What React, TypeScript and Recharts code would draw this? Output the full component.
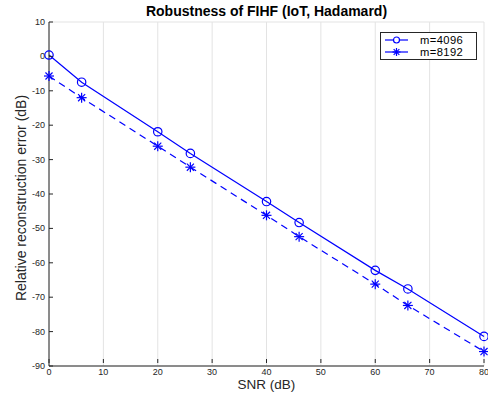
import React from 'react';
import { LineChart, Line, XAxis, YAxis, CartesianGrid, Legend } from 'recharts';

const snr = [0, 6, 20, 26, 40, 46, 60, 66, 80];
const m4096 = [0.4, -7.5, -21.9, -28.2, -42.2, -48.3, -62.2, -67.6, -81.4];
const m8192 = [-5.7, -12.0, -26.1, -32.2, -46.2, -52.4, -66.2, -72.4, -85.8];
const xTicks = [0, 10, 20, 30, 40, 50, 60, 70, 80];
const yTicks = [-90, -80, -70, -60, -50, -40, -30, -20, -10, 0, 10];
const seriesNames = ['m=4096', 'm=8192'];

const data = snr.map((s, i) => ({ snr: s, a: m4096[i], b: m8192[i] }));

const BLUE = '#0000ff';
const FONT = 'Liberation Sans, Arial, Helvetica, sans-serif';
const TICKCOL = '#262626';

const CircleDot = (p: any) => {
  if (p.cx == null || p.cy == null) return null;
  return <circle key={p.index} cx={p.cx} cy={p.cy} r={4.2} stroke={BLUE} strokeWidth={1.2} fill="none" />;
};

const StarShape = ({ cx, cy, s }: { cx: number; cy: number; s: number }) => {
  const d = s * 0.7071;
  return (
    <g stroke={BLUE} strokeWidth={1.2}>
      <line x1={cx - s} y1={cy} x2={cx + s} y2={cy} />
      <line x1={cx} y1={cy - s} x2={cx} y2={cy + s} />
      <line x1={cx - d} y1={cy - d} x2={cx + d} y2={cy + d} />
      <line x1={cx - d} y1={cy + d} x2={cx + d} y2={cy - d} />
    </g>
  );
};

const StarDot = (p: any) => {
  if (p.cx == null || p.cy == null) return null;
  return <g key={p.index}><StarShape cx={p.cx} cy={p.cy} s={5} /></g>;
};

const XTickBottom = (p: any) => {
  const { x, y, payload } = p;
  return (
    <g>
      <line x1={x} x2={x} y1={y - 3} y2={y - 7} stroke="#262626" strokeWidth={1} />
      <text x={x} y={y + 9} textAnchor="middle" fontSize={9} fill={TICKCOL} fontFamily={FONT}>
        {payload.value}
      </text>
    </g>
  );
};

const XTickTop = (p: any) => {
  const { x, y } = p;
  return <line x1={x} x2={x} y1={y} y2={y + 4} stroke="#262626" strokeWidth={1} />;
};

const YTickLeft = (p: any) => {
  const { x, y, payload } = p;
  return (
    <g>
      <line x1={x + 3} x2={x + 7} y1={y} y2={y} stroke="#262626" strokeWidth={1} />
      <text x={x - 1} y={y + 3} textAnchor="end" fontSize={9} fill={TICKCOL} fontFamily={FONT}>
        {payload.value}
      </text>
    </g>
  );
};

const YTickRight = (p: any) => {
  const { x, y } = p;
  return <line x1={x} x2={x - 4} y1={y} y2={y} stroke="#262626" strokeWidth={1} />;
};

const LegendBox = () => (
  <div
    style={{
      width: 95,
      height: 26,
      boxSizing: 'content-box',
      border: '1px solid #262626',
      background: '#fff',
      fontFamily: FONT,
      fontSize: 11.2,
      lineHeight: '12.5px',
      color: '#000',
    }}
  >
    <div style={{ height: 0.5 }} />
    {seriesNames.map((n, i) => (
      <div key={n} style={{ display: 'flex', alignItems: 'center', height: 12.5 }}>
        <svg width={39} height={12} style={{ display: 'block', flex: 'none' }}>
          <line x1={4} x2={27} y1={6} y2={6} stroke={BLUE} strokeWidth={1.2} />
          {i === 0 ? (
            <circle cx={15.5} cy={6} r={3} stroke={BLUE} strokeWidth={1.2} fill="#fff" />
          ) : (
            <StarShape cx={15.5} cy={6} s={4} />
          )}
        </svg>
        <span style={{ whiteSpace: 'nowrap', letterSpacing: 0.4 }}>{n}</span>
      </div>
    ))}
  </div>
);

export default function App() {
  return (
    <div style={{ position: 'absolute', left: 0, top: 0, width: 488, height: 401, background: '#fff' }}>
      <LineChart width={488} height={401} data={data} margin={{ top: 22, right: 4, bottom: 0, left: 0 }}>
        <CartesianGrid stroke="#e3e3e3" strokeWidth={1} vertical horizontal />
        <XAxis
          xAxisId="b"
          dataKey="snr"
          type="number"
          domain={[0, 80]}
          ticks={xTicks}
          height={35}
          tickSize={0}
          tickMargin={0}
          tickLine={false}
          tick={<XTickBottom />}
          stroke="#262626"
          interval={0}
        />
        <XAxis
          xAxisId="t"
          orientation="top"
          dataKey="snr"
          type="number"
          domain={[0, 80]}
          ticks={xTicks}
          height={0}
          tickSize={0}
          tickMargin={0}
          tickLine={false}
          tick={<XTickTop />}
          stroke="#262626"
          interval={0}
        />
        <YAxis
          yAxisId="l"
          type="number"
          domain={[-90, 10]}
          ticks={yTicks}
          width={49}
          tickSize={0}
          tickMargin={3}
          tickLine={false}
          tick={<YTickLeft />}
          stroke="#262626"
          interval={0}
        />
        <YAxis
          yAxisId="r"
          orientation="right"
          type="number"
          domain={[-90, 10]}
          ticks={yTicks}
          width={0}
          tickSize={0}
          tickMargin={0}
          tickLine={false}
          tick={<YTickRight />}
          stroke="#262626"
          interval={0}
        />
        <Line
          xAxisId="b"
          yAxisId="l"
          dataKey="a"
          name={seriesNames[0]}
          stroke={BLUE}
          strokeWidth={1.2}
          dot={<CircleDot />}
          activeDot={false}
          isAnimationActive={false}
        />
        <Line
          xAxisId="b"
          yAxisId="l"
          dataKey="b"
          name={seriesNames[1]}
          stroke={BLUE}
          strokeWidth={1.2}
          strokeDasharray="7 5"
          dot={<StarDot />}
          activeDot={false}
          isAnimationActive={false}
        />
        <Legend
          layout="vertical"
          align="center"
          verticalAlign="middle"
          content={<LegendBox />}
          wrapperStyle={{ position: 'absolute', left: 380, top: 32, width: 97, height: 28 }}
        />
      </LineChart>
      <div
        style={{
          position: 'absolute',
          left: 49,
          width: 435,
          top: 3,
          textAlign: 'center',
          fontFamily: FONT,
          fontWeight: 'bold',
          fontSize: 14,
          lineHeight: '16px',
          color: '#000',
        }}
      >
        Robustness of FIHF (IoT, Hadamard)
      </div>
      <div
        style={{
          position: 'absolute',
          left: 49,
          width: 435,
          top: 377,
          textAlign: 'center',
          fontFamily: FONT,
          fontSize: 13.5,
          lineHeight: '15px',
          color: TICKCOL,
        }}
      >
        SNR (dB)
      </div>
      <div
        style={{
          position: 'absolute',
          left: 21,
          top: 198,
          transform: 'translate(-50%, -50%) rotate(-90deg)',
          whiteSpace: 'nowrap',
          fontFamily: FONT,
          fontSize: 14,
          lineHeight: '15px',
          color: TICKCOL,
        }}
      >
        Relative reconstruction error (dB)
      </div>
    </div>
  );
}
